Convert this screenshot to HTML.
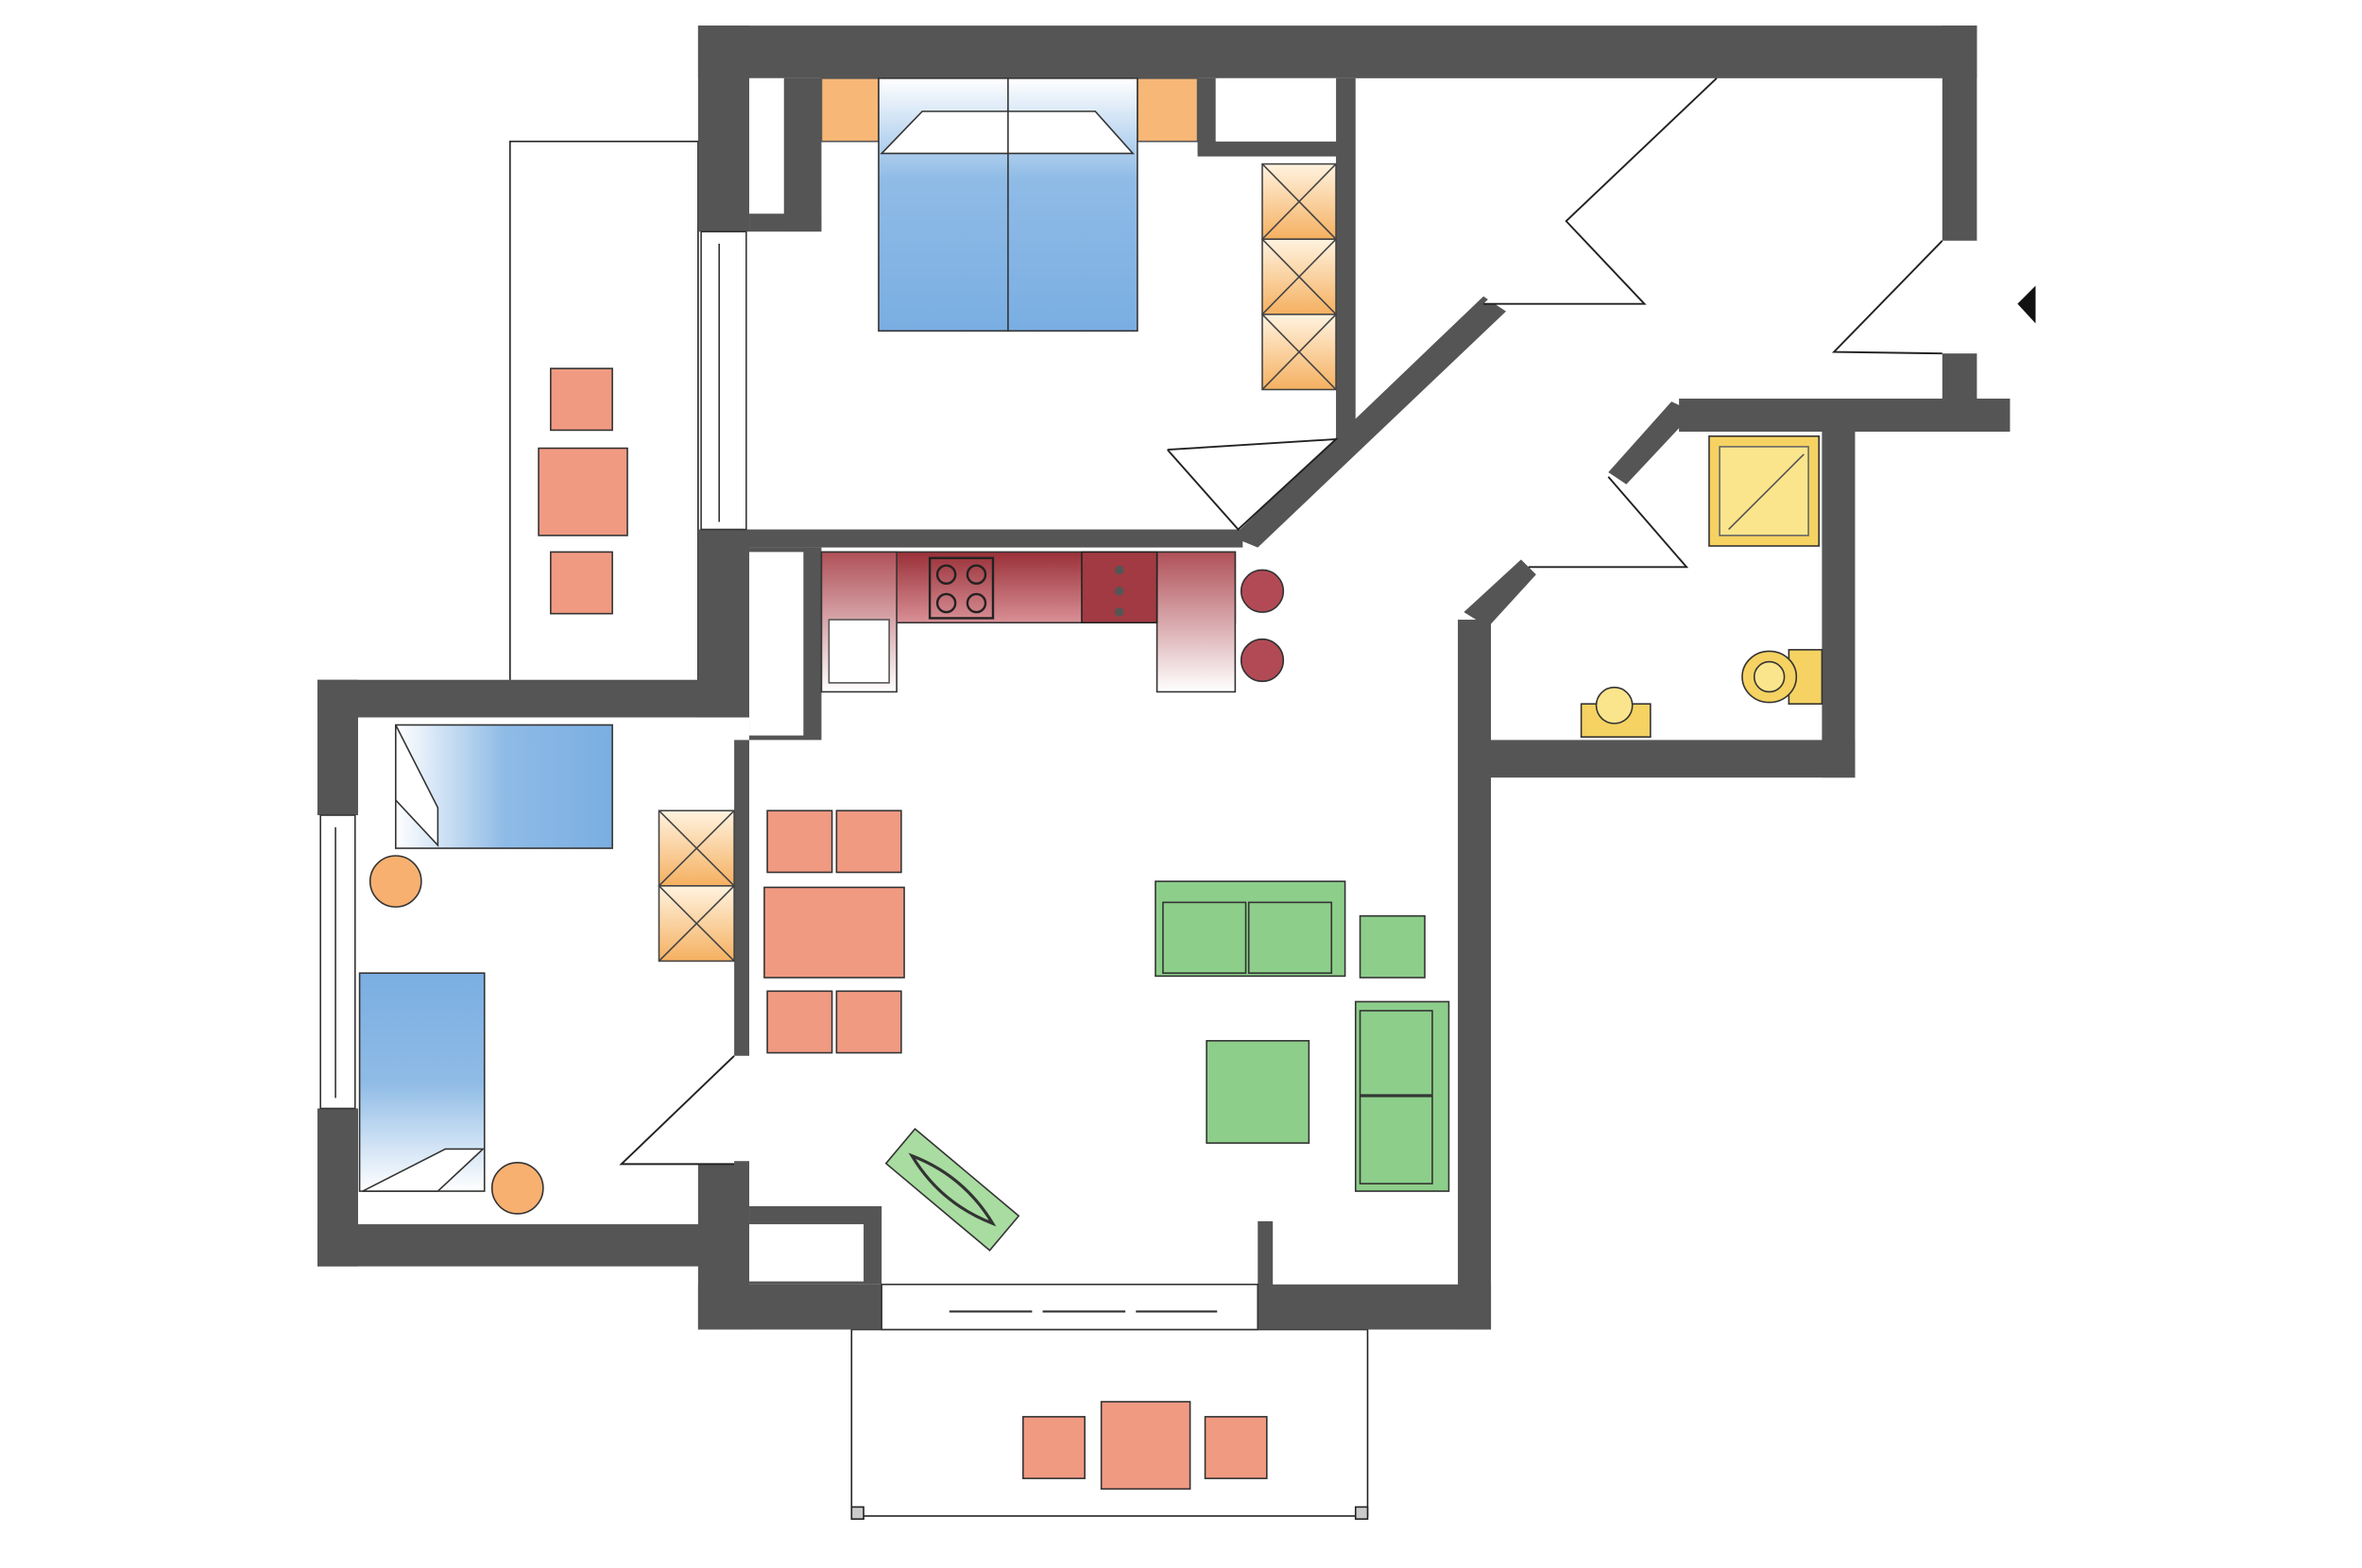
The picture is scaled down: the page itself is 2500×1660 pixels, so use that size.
<!DOCTYPE html>
<html><head><meta charset="utf-8"><style>html,body{margin:0;padding:0;background:#fff}svg{display:block}</style></head><body>
<svg width="2500" height="1660" viewBox="0 0 1548 1028" preserveAspectRatio="none" xmlns="http://www.w3.org/2000/svg">
<defs>
<linearGradient id="bl" x1="0" y1="1" x2="0" y2="0"><stop offset="0" stop-color="#7aaee2"/><stop offset="0.6" stop-color="#8fbbe6"/><stop offset="1" stop-color="#fff"/></linearGradient>
<linearGradient id="blh" x1="1" y1="0" x2="0" y2="0"><stop offset="0" stop-color="#7aaee2"/><stop offset="0.5" stop-color="#8fbbe6"/><stop offset="1" stop-color="#fff"/></linearGradient>
<linearGradient id="blv" x1="0" y1="0" x2="0" y2="1"><stop offset="0" stop-color="#7aaee2"/><stop offset="0.5" stop-color="#8fbbe6"/><stop offset="1" stop-color="#fff"/></linearGradient>
<linearGradient id="or" x1="0" y1="0" x2="0" y2="1"><stop offset="0" stop-color="#fff3e0"/><stop offset="1" stop-color="#f5b060"/></linearGradient>
<linearGradient id="kit" x1="0" y1="0" x2="0" y2="1"><stop offset="0" stop-color="#9a3038"/><stop offset="1" stop-color="#d89096"/></linearGradient>
<linearGradient id="kit2" x1="0" y1="0" x2="0" y2="1"><stop offset="0" stop-color="#b05058"/><stop offset="1" stop-color="#fff"/></linearGradient>
</defs>
<g transform="translate(1,2) scale(0.986)">
<g fill="#fff" stroke="#222" stroke-width="1">
<rect x="338" y="92" width="125" height="360"/>
<rect x="565" y="882" width="343" height="124"/>
<rect x="565" y="1000" width="8" height="8" fill="#ccc"/><rect x="900" y="1000" width="8" height="8" fill="#ccc"/>
</g>
<g fill="#555">
<rect x="463" y="15" width="850" height="35"/>
<rect x="463" y="15" width="34" height="137"/>
<rect x="497" y="140" width="48" height="12"/>
<rect x="520" y="50" width="25" height="100"/>
<rect x="795" y="50" width="12" height="50"/><rect x="795" y="92" width="95" height="10"/>
<rect x="887" y="50" width="13" height="240"/>
<rect x="1290" y="15" width="23" height="143"/>
<rect x="1290" y="233" width="23" height="35"/>
<rect x="1115" y="263" width="220" height="22"/>
<rect x="1210" y="285" width="22" height="230"/>
<rect x="975" y="490" width="257" height="25"/>
<rect x="968" y="410" width="22" height="472"/>
<rect x="835" y="852" width="155" height="30"/>
<rect x="835" y="810" width="10" height="45"/>
<rect x="463" y="350" width="362" height="12"/>
<rect x="463" y="350" width="34" height="125"/>
<rect x="497" y="362" width="48" height="128"/>
<rect x="487" y="490" width="10" height="210"/>
<rect x="210" y="450" width="287" height="25"/>
<rect x="210" y="450" width="27" height="90"/>
<rect x="210" y="735" width="27" height="105"/>
<rect x="210" y="812" width="287" height="28"/>
<rect x="463" y="770" width="34" height="112"/>
<rect x="463" y="852" width="122" height="30"/>
<rect x="497" y="800" width="88" height="52"/>
<polygon points="985,195 1000,205 835,362 818,355"/>
<polygon points="1110,265 1125,272 1080,320 1068,312"/>
<polygon points="1010,370 1020,380 988,415 972,405"/>
</g>
<g fill="#fff" stroke="#333">
<rect x="497" y="50" width="23" height="90" stroke="none"/>
<rect x="808" y="50" width="79" height="42" stroke="none"/>
<rect x="497" y="365" width="36" height="122" stroke="none"/>
<rect x="497" y="812" width="76" height="38" stroke="none"/>
<rect x="465" y="152" width="30" height="198"/><line x1="477" y1="160" x2="477" y2="345"/>
<rect x="212" y="540" width="23" height="195"/><line x1="222" y1="548" x2="222" y2="728"/>
<rect x="585" y="852" width="250" height="30"/>
</g>
<g stroke="#333" stroke-width="1.3">
<line x1="630" y1="870" x2="685" y2="870"/><line x1="692" y1="870" x2="747" y2="870"/><line x1="754" y1="870" x2="808" y2="870"/>
</g>
<g fill="#fff" stroke="#222" stroke-width="1.2">
<polyline points="1140,50 1040,145 1092,200 985,200"/>
<polyline points="1290,158 1218,232 1290,233"/>
<polyline points="1068,315 1120,375 1015,375"/>
<polyline points="775,297 822,350 887,290 775,297"/>
<polyline points="487,700 412,772 487,772"/>
</g>
<polygon points="1340,200 1352,188 1352,213" fill="#111"/>
<rect x="545" y="50" width="38" height="42" fill="#f7b777" stroke="#555"/>
<rect x="755" y="50" width="40" height="42" fill="#f7b777" stroke="#555"/>
<rect x="583" y="50" width="172" height="168" fill="url(#bl)" stroke="#333"/>
<line x1="669" y1="50" x2="669" y2="218" stroke="#333"/>
<polygon points="585,100 612,72 727,72 752,100" fill="#fff" stroke="#333"/>
<line x1="669" y1="72" x2="669" y2="100" stroke="#333"/>
<g stroke="#444" fill="url(#or)">
<rect x="838" y="107" width="49" height="50"/><rect x="838" y="157" width="49" height="50"/><rect x="838" y="207" width="49" height="50"/>
<path d="M838,107 l49,50 M887,107 l-49,50 M838,157 l49,50 M887,157 l-49,50 M838,207 l49,50 M887,207 l-49,50" fill="none"/>
<rect x="437" y="537" width="50" height="50"/><rect x="437" y="587" width="50" height="50"/>
<path d="M437,537 l50,50 M487,537 l-50,50 M437,587 l50,50 M487,587 l-50,50" fill="none"/>
</g>
<g fill="#f19a82" stroke="#333">
<rect x="365" y="243" width="41" height="41"/><rect x="357" y="296" width="59" height="58"/><rect x="365" y="365" width="41" height="41"/>
<rect x="679" y="940" width="41" height="41"/><rect x="731" y="930" width="59" height="58"/><rect x="800" y="940" width="41" height="41"/>
<rect x="509" y="537" width="43" height="41"/><rect x="555" y="537" width="43" height="41"/>
<rect x="507" y="588" width="93" height="60"/>
<rect x="509" y="657" width="43" height="41"/><rect x="555" y="657" width="43" height="41"/>
</g>
<rect x="262" y="480" width="144" height="82" fill="url(#blh)" stroke="#333"/>
<polygon points="262,480 262,530 290,560 290,535" fill="#fff" stroke="#333"/>
<rect x="238" y="645" width="83" height="145" fill="url(#blv)" stroke="#333"/>
<polygon points="240,790 290,790 320,762 295,762" fill="#fff" stroke="#333"/>
<circle cx="262" cy="584" r="17" fill="#f7b070" stroke="#333"/>
<circle cx="343" cy="788" r="17" fill="#f7b070" stroke="#333"/>
<rect x="545" y="365" width="275" height="47" fill="url(#kit)" stroke="#333"/>
<rect x="768" y="365" width="52" height="93" fill="url(#kit2)" stroke="#333"/>
<rect x="545" y="365" width="50" height="93" fill="url(#kit2)" stroke="#333"/>
<rect x="550" y="410" width="40" height="42" fill="#fff" stroke="#555"/>
<rect x="617" y="369" width="42" height="40" fill="none" stroke="#222" stroke-width="1.5"/>
<g fill="none" stroke="#222" stroke-width="1.5"><circle cx="628" cy="380" r="6"/><circle cx="648" cy="380" r="6"/><circle cx="628" cy="399" r="6"/><circle cx="648" cy="399" r="6"/></g>
<rect x="718" y="365" width="50" height="47" fill="#a13a42" stroke="#222"/>
<g fill="#555"><circle cx="743" cy="377" r="3"/><circle cx="743" cy="391" r="3"/><circle cx="743" cy="405" r="3"/></g>
<circle cx="838" cy="391" r="14" fill="#b24a55" stroke="#333"/>
<circle cx="838" cy="437" r="14" fill="#b24a55" stroke="#333"/>
<g fill="#8dce8a" stroke="#333">
<rect x="767" y="584" width="126" height="63"/><rect x="772" y="598" width="55" height="47"/><rect x="829" y="598" width="55" height="47"/>
<rect x="903" y="607" width="43" height="41"/>
<rect x="801" y="690" width="68" height="68"/>
<rect x="900" y="664" width="62" height="126"/><rect x="903" y="670" width="48" height="56"/><rect x="903" y="727" width="48" height="58"/>
</g>
<g transform="rotate(40 632 789)"><rect x="587" y="774" width="90" height="30" fill="#a8dca0" stroke="#333"/>
<path d="M597,789 q35,-12 70,0 q-35,12 -70,0 z" fill="none" stroke="#333" stroke-width="2"/></g>
<rect x="1135" y="288" width="73" height="73" fill="#f5d262" stroke="#333"/>
<rect x="1142" y="295" width="59" height="59" fill="#fbe58c" stroke="#666"/>
<line x1="1148" y1="350" x2="1198" y2="300" stroke="#555"/>
<rect x="1188" y="430" width="22" height="36" fill="#f5d262" stroke="#333"/>
<ellipse cx="1175" cy="448" rx="18" ry="17" fill="#f5d262" stroke="#333"/>
<ellipse cx="1175" cy="448" rx="10" ry="10" fill="#fbe58c" stroke="#333"/>
<rect x="1050" y="466" width="46" height="22" fill="#f5d262" stroke="#333"/>
<circle cx="1072" cy="467" r="12" fill="#fbe58c" stroke="#333"/>
</g>
</svg>
</body></html>
